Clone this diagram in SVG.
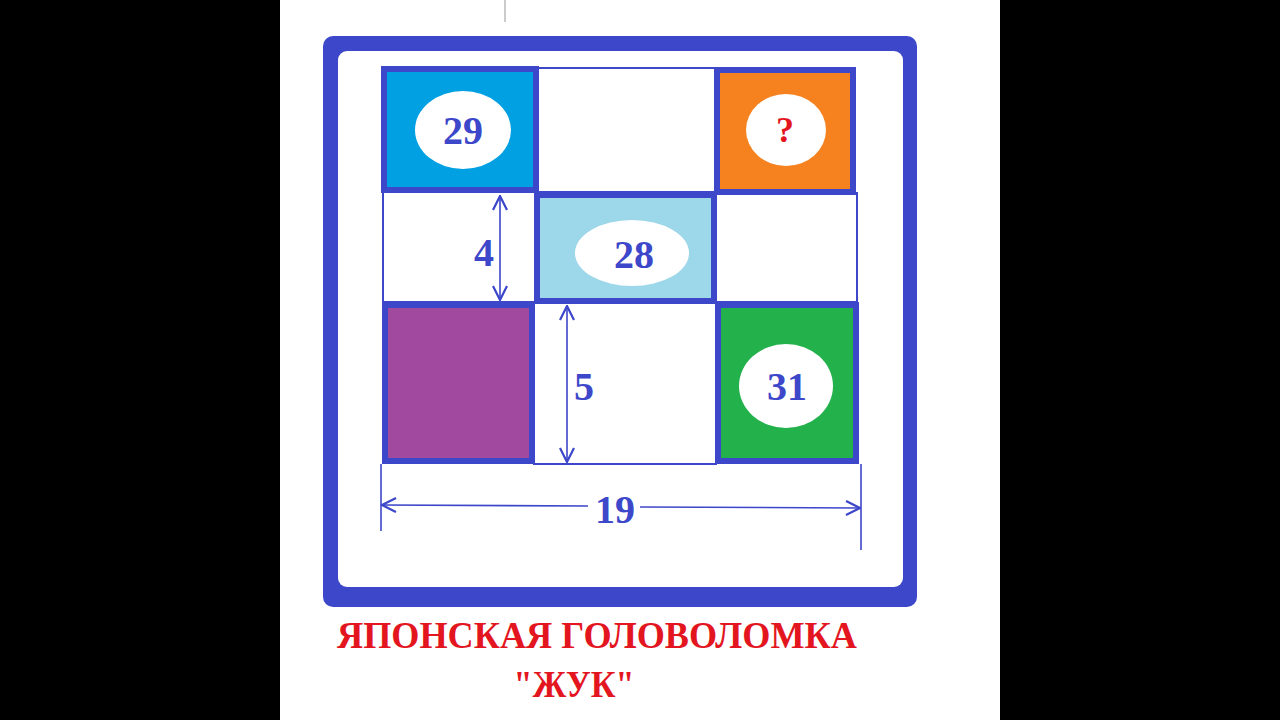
<svg xmlns="http://www.w3.org/2000/svg" width="1280" height="720" viewBox="0 0 1280 720">
<style>
.cell{stroke:#3d47c9;stroke-width:6;stroke-linejoin:miter}
.thin{fill:none;stroke:#3d47c9;stroke-width:2}
.num{font-family:"Liberation Serif","DejaVu Serif",serif;font-weight:bold;fill:#3d47c9;text-anchor:middle}
.dim{fill:none;stroke:#3d47c9;stroke-width:1.6}
.title{font-family:"Liberation Serif","DejaVu Serif",serif;font-weight:bold;fill:#e3161f}
</style>
<defs>
<marker id="arr" viewBox="0 0 16 16" refX="15" refY="8" markerWidth="16" markerHeight="16" markerUnits="userSpaceOnUse" orient="auto-start-reverse">
<path d="M1,1 L15,8 L1,15" fill="none" stroke="#3d47c9" stroke-width="2.2"/>
</marker>
</defs>
<rect x="0" y="0" width="1280" height="720" fill="#000"/>
<rect x="280" y="0" width="720" height="720" fill="#fff"/>
<line x1="505" y1="0" x2="505" y2="22" stroke="#bbb" stroke-width="1.5"/>
<g id="frame">
<rect x="323" y="36" width="594" height="571" rx="10" fill="#3d47c9"/>
<rect x="338" y="51" width="565" height="536" rx="9" fill="#fff"/>
</g>
<g id="grid-white">
<rect x="538" y="68" width="178" height="124" class="thin" fill="#fff"/>
<rect x="383" y="192" width="152" height="110" class="thin" fill="#fff"/>
<rect x="716" y="193" width="141" height="109" class="thin" fill="#fff"/>
<rect x="534" y="302" width="182" height="162" class="thin" fill="#fff"/>
</g>
<g id="cell-29">
<rect x="384" y="69" width="152" height="121" class="cell" fill="#00a0e3"/>
<ellipse cx="463" cy="130" rx="48" ry="39" fill="#fff"/>
<text x="463" y="144" class="num" font-size="40">29</text>
</g>
<g id="cell-q">
<rect x="717" y="70" width="136" height="122" class="cell" fill="#f6821f"/>
<ellipse cx="786" cy="130" rx="40" ry="36" fill="#fff"/>
<text x="785" y="142" class="num" font-size="36" style="fill:#e3161f">?</text>
</g>
<g id="cell-28">
<rect x="537" y="195" width="177" height="106" class="cell" fill="#9dd7ea"/>
<ellipse cx="632" cy="253" rx="57" ry="33" fill="#fff"/>
<text x="634" y="268" class="num" font-size="40">28</text>
</g>
<g id="cell-purple">
<rect x="385" y="305" width="147" height="156" class="cell" fill="#a0499e"/>
</g>
<g id="cell-31">
<rect x="718" y="305" width="138" height="156" class="cell" fill="#23b14c"/>
<ellipse cx="786" cy="386" rx="47" ry="42" fill="#fff"/>
<text x="787" y="400" class="num" font-size="40">31</text>
</g>
<g id="connectors">
<line x1="500" y1="196" x2="500" y2="300" class="dim" marker-start="url(#arr)" marker-end="url(#arr)"/>
<line x1="567" y1="306" x2="567" y2="462" class="dim" marker-start="url(#arr)" marker-end="url(#arr)"/>
<line x1="381" y1="464" x2="381" y2="531" class="dim"/>
<line x1="861" y1="464" x2="861" y2="550" class="dim"/>
<line x1="382" y1="505" x2="588" y2="506" class="dim" marker-start="url(#arr)"/>
<line x1="640" y1="507" x2="860" y2="508" class="dim" marker-end="url(#arr)"/>
</g>
<g id="labels">
<text x="484" y="266" class="num" font-size="40">4</text>
<text x="584" y="400" class="num" font-size="40">5</text>
<text x="615" y="523" class="num" font-size="40">19</text>
</g>
<g id="title">
<text x="597" y="648" class="title" font-size="38" text-anchor="middle" textLength="520" lengthAdjust="spacingAndGlyphs">ЯПОНСКАЯ ГОЛОВОЛОМКА</text>
<text x="574" y="697" class="title" font-size="38" text-anchor="middle" textLength="121" lengthAdjust="spacingAndGlyphs">"ЖУК"</text>
</g>
</svg>
